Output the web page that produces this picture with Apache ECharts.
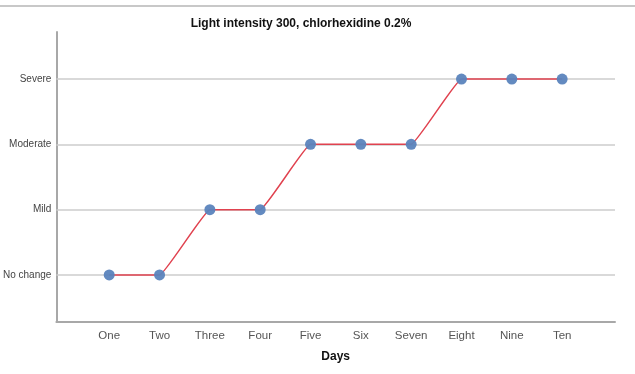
<!DOCTYPE html>
<html><head><meta charset="utf-8">
<script src="https://cdn.jsdelivr.net/npm/echarts@6/dist/echarts.min.js"></script>
<style>html,body{margin:0;padding:0;background:#fff}#c{width:635px;height:374px}</style>
</head><body><div id="c"></div>
<script>
const days = ["One","Two","Three","Four","Five","Six","Seven","Eight","Nine","Ten"];
const severityLabels = ["No change","Mild","Moderate","Severe"];
const scores = [0,0,1,1,2,2,2,3,3,3];

const chart = echarts.init(document.getElementById('c'));
const pts = scores.map((v,i)=>[i,v]);
const font = 'Liberation Sans, Arial, sans-serif';
chart.setOption({
  animation:false,
  title:{text:'Light intensity 300, chlorhexidine 0.2%',left:296,top:13,textAlign:'center',
    textStyle:{fontFamily:font,fontSize:12,fontWeight:'bold',color:'#111'}},
  graphic:[{type:'line',shape:{x1:0,y1:6,x2:635,y2:6},style:{stroke:'#c8c8c8',lineWidth:2}}],
  grid:{left:56,right:20,top:32,bottom:52},
  xAxis:{type:'value',min:-1.05,max:10.05,
    name:'Days',nameLocation:'middle',nameGap:29,
    nameTextStyle:{fontFamily:font,fontSize:12,fontWeight:'bold',color:'#111'},
    axisLine:{show:true,onZero:false,lineStyle:{color:'#a8a8a8',width:2}},
    axisTick:{show:false,customValues:[0,1,2,3,4,5,6,7,8,9]},
    splitLine:{show:false},
    axisLabel:{customValues:[0,1,2,3,4,5,6,7,8,9],formatter:v=>days[Math.round(v)],
      fontFamily:font,fontSize:11.5,color:'#555',margin:8}},
  yAxis:{type:'value',min:-0.72,max:3.72,
    axisLine:{show:true,onZero:false,lineStyle:{color:'#a8a8a8',width:2}},
    axisTick:{show:false,customValues:[0,1,2,3]},
    splitLine:{show:false},
    axisLabel:{customValues:[0,1,2,3],formatter:v=>severityLabels[Math.round(v)],
      fontFamily:font,fontSize:10,color:'#444',margin:5}},
  series:[
    {type:'line',data:pts,smooth:0.08,symbol:'none',z:3,
      lineStyle:{color:'#e0424f',width:1.5},
      markLine:{silent:true,symbol:'none',label:{show:false},z:1,
        lineStyle:{color:'#cccccc',width:1.5,type:'solid'},
        data:severityLabels.map((s,i)=>({yAxis:i}))}},
    {type:'scatter',data:pts,symbol:'circle',symbolSize:11,z:4,
      itemStyle:{color:'#5b84bd',opacity:0.95}}
  ]
});
</script></body></html>
